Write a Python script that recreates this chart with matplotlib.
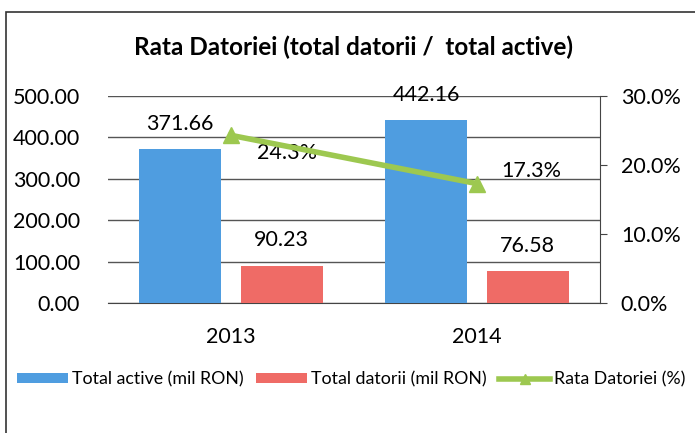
import matplotlib.pyplot as plt
import numpy as np
from matplotlib.patches import Rectangle

years = ['2013', '2014']
total_active = [371.66, 442.16]
total_datorii = [90.23, 76.58]
rata = [24.3, 17.3]

plt.rcParams['font.family'] = ['Lato', 'DejaVu Sans']

blue = '#4f9de0'
red = '#ef6b66'
green = '#9dc850'

fig = plt.figure(figsize=(6.95, 4.33), dpi=100)
ax = fig.add_axes([0.1554, 0.3002, 0.7079, 0.4781])
ax2 = ax.twinx()

x = np.arange(len(years))
w = 0.333
b1 = ax.bar(x - w / 2 - 0.04, total_active, w, color=blue, label='Total active (mil RON)', zorder=3)
b2 = ax.bar(x + w / 2 + 0.04, total_datorii, w, color=red, label='Total datorii (mil RON)', zorder=3)

for bars in (b1, b2):
    for r in bars:
        ax.annotate('%.2f' % r.get_height(), (r.get_x() + r.get_width() / 2, r.get_height()),
                    xytext=(0, 11), textcoords='offset points', ha='center', va='bottom',
                    fontsize=15.5, zorder=5)

ln, = ax2.plot(x, rata, '-^', color=green, lw=4, ms=11, label='Rata Datoriei (%)', zorder=4)
offs = [(40, -13), (39, 9)]
for xi, v, o in zip(x, rata, offs):
    ax2.annotate('%.1f%%' % v, (xi, v), xytext=o, textcoords='offset points',
                 ha='center', va='center', fontsize=15.5)

ax.set_xlim(-0.5, 1.5)
ax.set_ylim(0, 500)
ax.set_yticks(np.arange(0, 501, 100))
ax.set_yticklabels(['%.2f' % t for t in np.arange(0, 501, 100)])
ax.set_xticks(x)
ax.set_xticklabels(years)
ax.tick_params(axis='x', length=0, labelsize=15.5, pad=17)
ax.tick_params(axis='y', length=0, labelsize=15.5, pad=20)
ax.grid(axis='y', color='#555555', lw=1, zorder=0)
ax.set_axisbelow(True)
for s in ['top', 'left', 'right']:
    ax.spines[s].set_visible(False)
ax.spines['bottom'].set_color('#444444')

ax2.set_ylim(0, 30)
ax2.set_yticks([0, 10, 20, 30])
ax2.set_yticklabels(['%.1f%%' % t for t in [0, 10, 20, 30]])
ax2.tick_params(axis='y', length=5, labelsize=15.5, pad=10, color='#444444')
for s in ['top', 'left', 'bottom']:
    ax2.spines[s].set_visible(False)
ax2.spines['right'].set_color('#444444')

fig.text(0.508, 0.891, 'Rata Datoriei (total datorii /  total active)',
         ha='center', va='center', fontsize=17.5, fontweight='bold')

handles = [b1, b2, ln]
leg = fig.legend(handles, [h.get_label() for h in handles], loc='center', bbox_to_anchor=(0.505, 0.124),
                 ncol=3, frameon=False, fontsize=12.8, handlelength=2.9, handleheight=0.55,
                 columnspacing=0.7, handletextpad=0.2, borderpad=0, borderaxespad=0,
                 markerscale=0.7)

fig.patches.append(Rectangle((6 / 695, -0.05), 1.1, 1 - 12 / 433 + 0.05, transform=fig.transFigure,
                             fill=False, ec='#333333', lw=1.2))

fig.savefig('out.png', dpi=100)
